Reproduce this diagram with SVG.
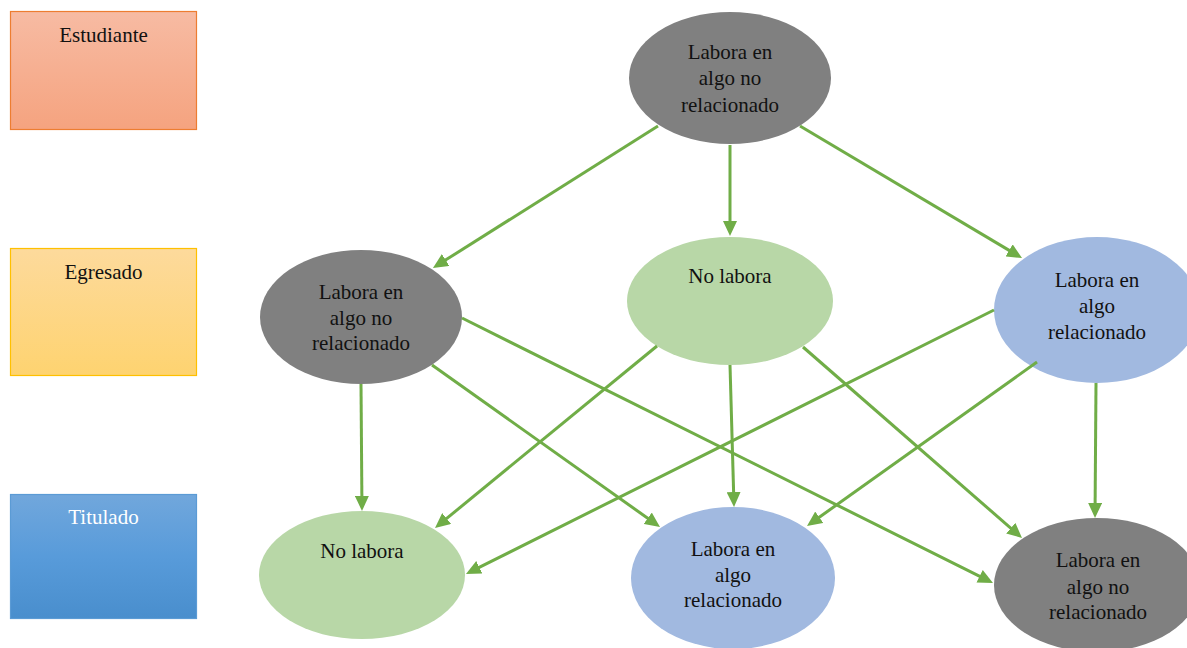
<svg xmlns="http://www.w3.org/2000/svg" width="1187" height="648" viewBox="0 0 1187 648">
<style>
text{font-family:"Liberation Serif","Times New Roman",serif;font-size:21px;fill:#111;text-anchor:middle}
.gray{fill:#808080}
.green{fill:#B8D7A7}
.blue{fill:#A1B9E0}
.conn line{stroke:#70AD47;stroke-width:3;fill:none;marker-end:url(#arr)}
</style>
<defs>
<linearGradient id="gEst" x1="0" y1="0" x2="0" y2="1"><stop offset="0" stop-color="#F7BBA3"/><stop offset="1" stop-color="#F5A37F"/></linearGradient>
<linearGradient id="gEgr" x1="0" y1="0" x2="0" y2="1"><stop offset="0" stop-color="#FDDA9C"/><stop offset="1" stop-color="#FED370"/></linearGradient>
<linearGradient id="gTit" x1="0" y1="0" x2="0" y2="1"><stop offset="0" stop-color="#71A7DC"/><stop offset="0.5" stop-color="#589BDA"/><stop offset="1" stop-color="#498ECD"/></linearGradient>
<marker id="arr" markerUnits="userSpaceOnUse" markerWidth="15" markerHeight="14" refX="3" refY="7" orient="auto"><path d="M0,0 L15,7 L0,14 z" fill="#70AD47"/></marker>
</defs>
<rect width="1187" height="648" fill="#fff"/>
<g id="estudiante"><rect x="10.5" y="11.5" width="186" height="118" fill="url(#gEst)" stroke="#ED7D31" stroke-width="1.2"/><text x="103.5" y="42">Estudiante</text></g>
<g id="egresado"><rect x="10.5" y="248.5" width="186" height="127" fill="url(#gEgr)" stroke="#FFC000" stroke-width="1.2"/><text x="103.5" y="279">Egresado</text></g>
<g id="titulado"><rect x="10.5" y="494.5" width="186" height="124" fill="url(#gTit)" stroke="#5B9BD5" stroke-width="1.2"/><text x="103.5" y="524" style="fill:#fff">Titulado</text></g>

<g id="n_top"><ellipse class="gray" cx="730" cy="78" rx="101" ry="66"/><text x="730" y="58.5">Labora en</text><text x="730" y="85">algo no</text><text x="730" y="111.5">relacionado</text></g>
<g id="n_mid_left"><ellipse class="gray" cx="361" cy="317" rx="101" ry="67"/><text x="361" y="298.5">Labora en</text><text x="361" y="324.5">algo no</text><text x="361" y="350">relacionado</text></g>
<g id="n_mid_center"><ellipse class="green" cx="730" cy="301" rx="103" ry="64"/><text x="730" y="282.5">No labora</text></g>
<g id="n_mid_right"><ellipse class="blue" cx="1097" cy="310" rx="103" ry="73"/><text x="1097" y="286.5">Labora en</text><text x="1097" y="313">algo</text><text x="1097" y="338.5">relacionado</text></g>
<g id="n_bot_left"><ellipse class="green" cx="362" cy="575" rx="103" ry="64"/><text x="362" y="557.5">No labora</text></g>
<g id="n_bot_center"><ellipse class="blue" cx="733" cy="578" rx="102" ry="71"/><text x="733" y="555.5">Labora en</text><text x="733" y="582">algo</text><text x="733" y="607">relacionado</text></g>
<g id="n_bot_right"><ellipse class="gray" cx="1097" cy="585" rx="103" ry="67"/><text x="1098" y="566.5">Labora en</text><text x="1098" y="593.5">algo no</text><text x="1098" y="619">relacionado</text></g>

<g id="connectors" class="conn">
<line x1="658" y1="126" x2="443.1" y2="261.6"/>
<line x1="730" y1="145" x2="730" y2="224"/>
<line x1="800" y1="126" x2="1011.7" y2="251.9"/>
<line x1="361" y1="384" x2="361.9" y2="499"/>
<line x1="432" y1="365" x2="650.2" y2="520"/>
<line x1="462" y1="318" x2="982.3" y2="577.6"/>
<line x1="657" y1="346" x2="444.3" y2="520.4"/>
<line x1="730" y1="365" x2="733.7" y2="495"/>
<line x1="803" y1="347" x2="1013" y2="530.1"/>
<line x1="994" y1="310" x2="476.7" y2="568.6"/>
<line x1="1037" y1="362" x2="816.8" y2="519"/>
<line x1="1096" y1="383" x2="1095.1" y2="506"/>
</g>
</svg>
